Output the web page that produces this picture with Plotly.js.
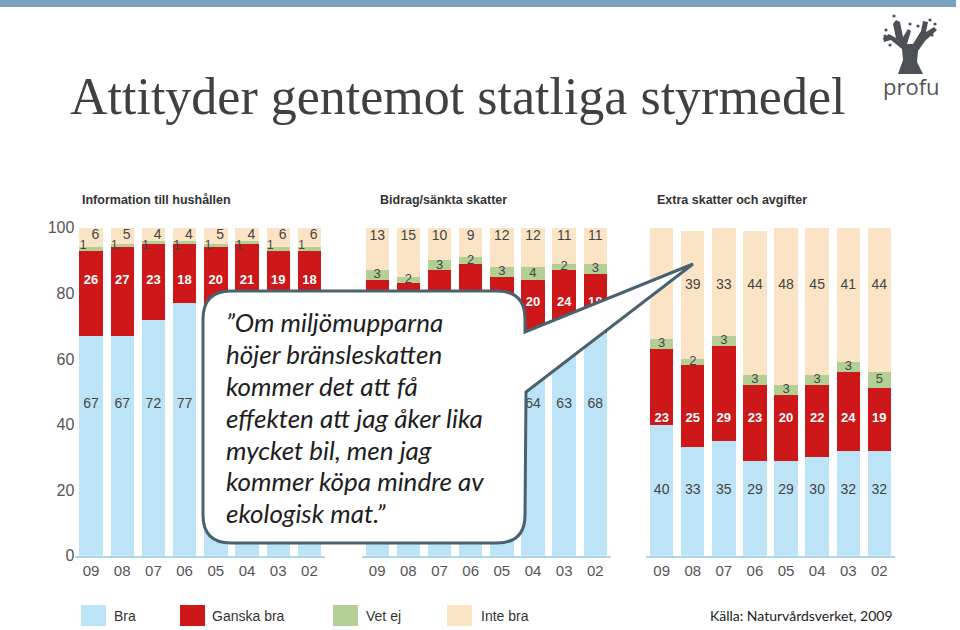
<!DOCTYPE html>
<html>
<head>
<meta charset="utf-8">
<script src="https://cdn.plot.ly/plotly-3.0.1.min.js"></script>
<style>html,body{margin:0;padding:0;background:#fff;}#chart{width:960px;height:630px;}</style>
</head>
<body>
<div id="chart"></div>
<script>
// ---------- data ----------
const years = ['09','08','07','06','05','04','03','02'];
const groupTitles = ['Information till hushållen','Bidrag/sänkta skatter','Extra skatter och avgifter'];
const seriesNames = ['Bra','Ganska bra','Vet ej','Inte bra'];

const infoBra     = [67,67,72,77,74,74,74,75];
const infoGanska  = [26,27,23,18,20,21,19,18];
const infoVetEj   = [1,1,1,1,1,1,1,1];
const infoInte    = [6,5,4,4,5,4,6,6];

const bidragBra    = [62,61,66,68,64,64,63,68];
const bidragGanska = [22,22,21,21,21,20,24,18];
const bidragVetEj  = [3,2,3,2,3,4,2,3];
const bidragInte   = [13,15,10,9,12,12,11,11];

const extraBra    = [40,33,35,29,29,30,32,32];
const extraGanska = [23,25,29,23,20,22,24,19];
const extraVetEj  = [3,2,3,3,3,3,3,5];
const extraInte   = [34,39,33,44,48,45,41,44];

const yTicks = [0,20,40,60,80,100];
const quoteLines = ['\u201DOm miljömupparna','höjer bränsleskatten','kommer det att få','effekten att jag åker lika','mycket bil, men jag','kommer köpa mindre av','ekologisk mat.\u201D'];
const sourceText = 'Källa: Naturvårdsverket, 2009';
const mainTitle = 'Attityder gentemot statliga styrmedel';

// ---------- style ----------
const W = 960, H = 630;
const px = x => x / W;
const py = y => 1 - y / H;
const colors = ['#bde3f6','#cd1719','#b3cf96','#fbe4c6'];
const idx = years.map((_, i) => i);
const sans = '"Liberation Sans", Arial, sans-serif';

const groups = [
  {x:'x',  data:[infoBra, infoGanska, infoVetEj, infoInte]},
  {x:'x2', data:[bidragBra, bidragGanska, bidragVetEj, bidragInte]},
  {x:'x3', data:[extraBra, extraGanska, extraVetEj, extraInte]}
];

const traces = [];
groups.forEach((g, gi) => {
  g.data.forEach((vals, si) => {
    traces.push({type:'bar', x: idx, y: vals, xaxis: g.x, yaxis:'y', name: seriesNames[si],
      marker:{color: colors[si], line:{width:0}}, showlegend:false, hoverinfo:'skip'});
  });
});

// labels that sit under the speech bubble in the original are not printed
const hide = (vals, hidden) => vals.map((v, i) => hidden.includes(i) ? '' : String(v));

function textTrace(xa, xs, ys, txt, color, size, bold) {
  return {type:'scatter', mode:'text', x: xs, y: ys, text: txt, xaxis: xa, yaxis:'y',
    textposition:'middle center', cliponaxis:false, showlegend:false, hoverinfo:'skip',
    textfont:{family: sans, size: size, color: color, weight: bold ? 'bold' : 'normal'}};
}
const lvl = v => idx.map(() => v);
const segMid = (a, b, c) => idx.map(i => a[i] + b[i] + c[i] / 2);

// left group labels
traces.push(textTrace('x', idx, lvl(46), hide(infoBra, [4,5,6,7]), '#444', 14, false));
traces.push(textTrace('x', idx, lvl(83.8), hide(infoGanska, []), '#ffffff', 13, true));
traces.push(textTrace('x', idx.map(i => i - 0.25), lvl(94.5), hide(infoVetEj, []), '#444', 12, false));
traces.push(textTrace('x', idx.map(i => i + 0.14), lvl(97.6), hide(infoInte, []), '#444', 14, false));
// middle group labels
traces.push(textTrace('x2', idx, lvl(46), hide(bidragBra, [0,1,2,3,4]), '#444', 14, false));
traces.push(textTrace('x2', idx, lvl(77), hide(bidragGanska, [0,1,2,3,4]), '#ffffff', 13, true));
traces.push(textTrace('x2', idx, segMid(bidragBra, bidragGanska, bidragVetEj), hide(bidragVetEj, []), '#444', 13, false));
traces.push(textTrace('x2', idx, lvl(97.3), hide(bidragInte, []), '#444', 14, false));
// right group labels
traces.push(textTrace('x3', idx, lvl(20), hide(extraBra, []), '#444', 14, false));
traces.push(textTrace('x3', idx, lvl(41.7), hide(extraGanska, []), '#ffffff', 13, true));
traces.push(textTrace('x3', idx, segMid(extraBra, extraGanska, extraVetEj), hide(extraVetEj, []), '#444', 13, false));
traces.push(textTrace('x3', idx, lvl(82.5), hide(extraInte, [0]), '#444', 14, false));

function xaxisCfg(d0, d1) {
  return {domain:[px(d0), px(d1)], range:[-0.5, 7.5], anchor:'y', tickmode:'array',
    tickvals: idx, ticktext: years, showgrid:false, zeroline:false, showline:true,
    linecolor:'#a9d7ee', linewidth:2, ticks:'', fixedrange:true,
    tickfont:{family: sans, size:15, color:'#555'}};
}

// callout path
const L = 203, T = 291, R = 525, B = 543, r = 28;
const P = (x, y) => px(x).toFixed(5) + ',' + py(y).toFixed(5);
const calloutPath = 'M' + P(L + r, T) + ' L' + P(R - r, T) + ' Q' + P(R, T) + ' ' + P(R, T + r) +
  ' L' + P(R, 332) + ' L' + P(693, 264) + ' L' + P(R + 1, 392) + ' L' + P(R, B - r) +
  ' Q' + P(R, B) + ' ' + P(R - r, B) + ' L' + P(L + r, B) + ' Q' + P(L, B) + ' ' + P(L, B - r) +
  ' L' + P(L, T + r) + ' Q' + P(L, T) + ' ' + P(L + r, T) + ' Z';

const treePts = [[898,74],[903,60],[902,49],[891,40],[884,42],[883,38],[889,34],[896,38],[893,24],[896,20],[900,22],[903,37],[908,29],[911,31],[907,44],[913,44],[921,31],[923,21],[928,22],[926,32],[934,27],[937,30],[925,41],[918,51],[917,62],[923,74]];
const treePath = 'M' + treePts.map(p => P(p[0], p[1])).join(' L') + ' Z';

const shapes = [
  {type:'rect', xref:'paper', yref:'paper', x0:0, x1:px(956), y0:py(7), y1:1, fillcolor:'#7ba3bf', line:{width:0}, layer:'above'},
  {type:'path', xref:'paper', yref:'paper', path: treePath, fillcolor:'#4b5157', line:{width:0}, layer:'above'},
  {type:'path', xref:'paper', yref:'paper', path: calloutPath, fillcolor:'#ffffff', line:{color:'#4a6170', width:3}, layer:'above'}
];
// leaf dots of the logo tree
[[886,30],[890,45],[885,36],[932,35],[930,20],[918,26],[894,16],[935,24],[910,24]].forEach(p => shapes.push(
  {type:'circle', xref:'paper', yref:'paper', x0:px(p[0]-1.6), x1:px(p[0]+1.6), y0:py(p[1]+1.6), y1:py(p[1]-1.6), fillcolor:'#4b5157', line:{width:0}, layer:'above'}));
// legend swatches
const legX = [81, 180, 333, 447];
legX.forEach((x, i) => shapes.push({type:'rect', xref:'paper', yref:'paper', x0:px(x), x1:px(x + 25), y0:py(626), y1:py(605), fillcolor: colors[i], line:{width:0}}));

const annotations = [
  {text: mainTitle, x: px(68), y: py(96), xref:'paper', yref:'paper', xanchor:'left', yanchor:'middle', showarrow:false,
   font:{family:'"Liberation Serif", "Times New Roman", serif', size:52, color:'#404040'}},
  {text:'profu', x: px(911), y: py(86), xref:'paper', yref:'paper', xanchor:'center', yanchor:'middle', showarrow:false,
   font:{family:'"Open Sans", sans-serif', size:22, color:'#555'}},
  {text: sourceText, x: px(895), y: py(615), xref:'paper', yref:'paper', xanchor:'right', yanchor:'middle', showarrow:false,
   font:{family:'Lato, sans-serif', size:14, color:'#222'}}
];
const gtX = [80, 378, 655];
groupTitles.forEach((t, i) => annotations.push({text:'<b>' + t + '</b>', x: px(gtX[i]), y: py(200), xref:'paper', yref:'paper',
  xanchor:'left', yanchor:'middle', showarrow:false, font:{family: sans, size:12.5, color:'#333'}}));
const legTX = [112, 210, 364, 479];
seriesNames.forEach((t, i) => annotations.push({text: t, x: px(legTX[i]), y: py(616), xref:'paper', yref:'paper',
  xanchor:'left', yanchor:'middle', showarrow:false, font:{family: sans, size:14, color:'#333'}}));
quoteLines.forEach((t, i) => annotations.push({text: t, x: px(224), y: py(322 + i * 31.9), xref:'paper', yref:'paper',
  xanchor:'left', yanchor:'middle', showarrow:false, font:{family:'Lato, sans-serif', size:26, color:'#1e1e1e', style:'italic'}}));

const layout = {
  width: W, height: H, margin:{l:0, r:0, t:0, b:0}, paper_bgcolor:'#fff', plot_bgcolor:'rgba(0,0,0,0)',
  barmode:'stack', bargap:0.25, showlegend:false,
  xaxis: xaxisCfg(75.4, 325),
  xaxis2: xaxisCfg(361.6, 610.9),
  xaxis3: xaxisCfg(646.1, 894.9),
  yaxis: {domain:[py(555.7), py(227.7)], range:[0,100], anchor:'x', tickmode:'array', tickvals: yTicks,
    showgrid:false, zeroline:false, showline:false, ticks:'', fixedrange:true,
    tickfont:{family: sans, size:16, color:'#555'}},
  shapes: shapes, annotations: annotations
};

Plotly.newPlot('chart', traces, layout, {displayModeBar:false, staticPlot:true});
</script>
</body>
</html>
